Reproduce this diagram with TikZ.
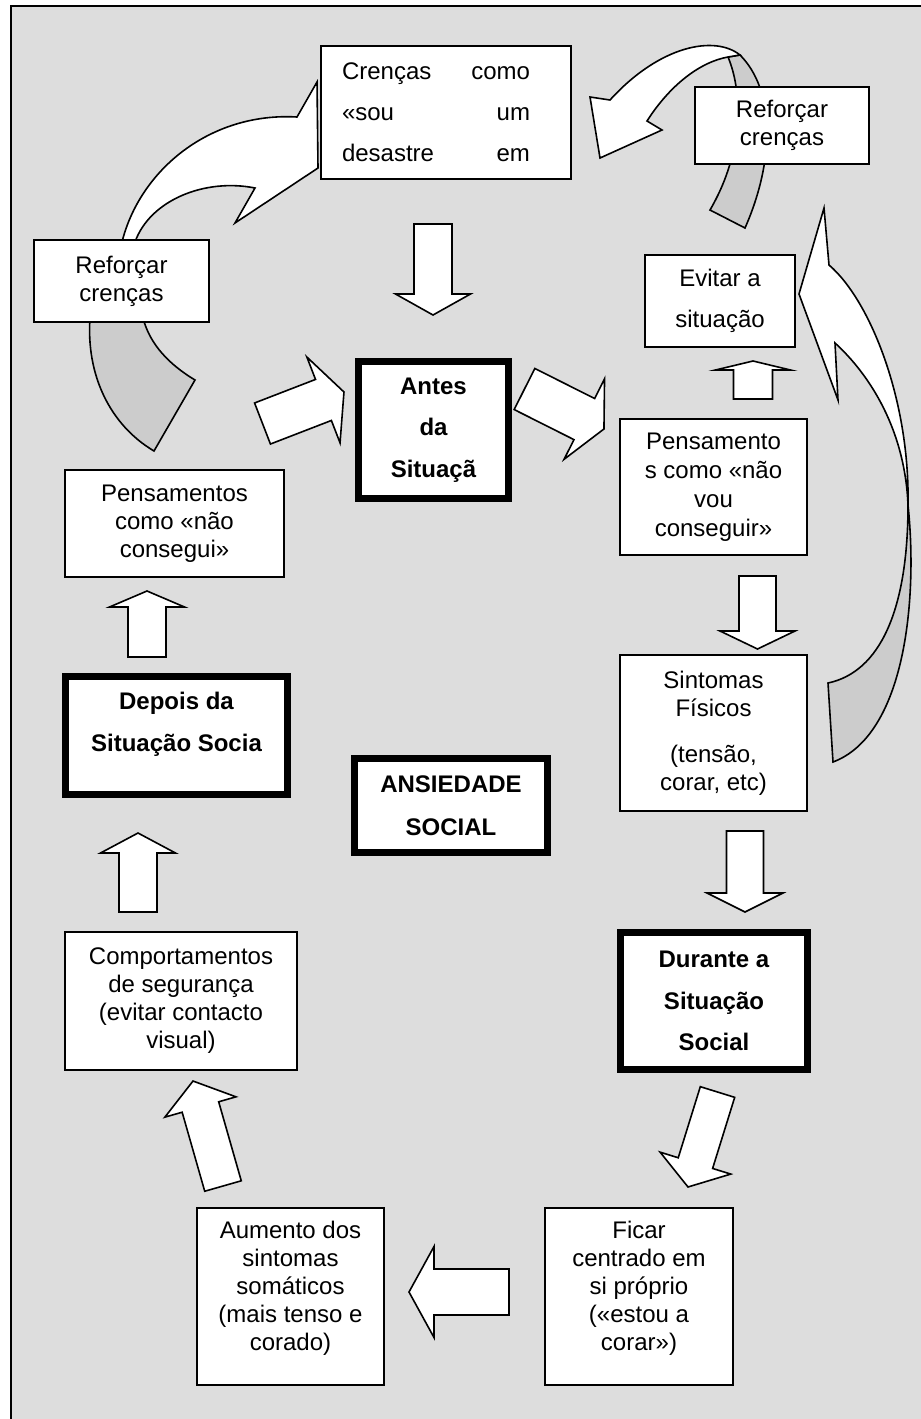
\documentclass[tikz,border=0pt]{standalone}
\usepackage{fontspec}
\setmainfont{Liberation Sans}
\usepackage{tikz}
\usetikzlibrary{calc}
\definecolor{bggray}{gray}{0.867}
\definecolor{ribbongray}{gray}{0.8}
\tikzset{box/.style={draw,fill=white,line width=0.75pt,align=center,inner sep=0pt,
    font=\fontsize{12}{14}\selectfont},
  widebox/.style={box,font=\fontsize{12}{20.75}\selectfont},
  keybox/.style={box,line width=3.5pt,font=\bfseries\fontsize{12}{20.75}\selectfont},
  blockarr/.style={draw,fill=white,line width=0.8pt},
  ribbon/.style={draw,fill=white,line width=0.8pt},
  ribbonback/.style={draw,fill=ribbongray,line width=0.8pt}}
\newcommand\lowpad[1]{\rule[-#1]{0pt}{#1}}
\newcommand\spreadline[2]{\makebox[104pt][l]{\makebox[94pt]{#1\hfill #2}}}
% block arrow from #1 to #2: shaft, head (half widths), head length
\newcommand\blockarr[5]{%
  \pgfmathanglebetweenpoints{\pgfpointanchor{#1}{center}}{\pgfpointanchor{#2}{center}}%
  \let\barang\pgfmathresult
  \pgfpointdiff{\pgfpointanchor{#1}{center}}{\pgfpointanchor{#2}{center}}%
  \pgfgetlastxy{\bardx}{\bardy}%
  \pgfmathsetmacro\barlen{veclen(\bardx,\bardy)/0.5}%
  \begin{scope}[shift={(#1)},rotate=\barang,x=0.5pt,y=0.5pt]
    \draw[blockarr] (0,-#3) -- ({\barlen-#5},-#3) -- ({\barlen-#5},-#4) -- (\barlen,0)
      -- ({\barlen-#5},#4) -- ({\barlen-#5},#3) -- (0,#3) -- cycle;
  \end{scope}}
\begin{document}
\begin{tikzpicture}[x=0.5pt,y=-0.5pt,line cap=round]

  \useasboundingbox (0,0) rectangle (921,1419);
  \fill[bggray] (11,6) rectangle (921,1419);
  \draw[line width=1pt] (11,1419) -- (11,6) -- (921,6);

  % curved arrows
  \draw[ribbonback] (90,318) .. controls (86,375) and (110,425) .. (154,451)
    -- (195,380) .. controls (170,365) and (150,345) .. (143,318) -- cycle;
  \draw[ribbon] (122,242) .. controls (140,170) and (210,112) .. (297,117)
    -- (317,82) -- (318,168) -- (235,223) -- (255,188)
    .. controls (205,178) and (150,200) .. (135,242) -- cycle;

  \draw[ribbonback] (728,57) .. controls (742,90) and (745,150) .. (710,210)
    -- (745,228) .. controls (775,160) and (775,90) .. (740,55) -- cycle;
  \draw[ribbon] (610,100) -- (590,97) -- (600,158) -- (662,130) -- (647,121)
    .. controls (670,85) and (700,62) .. (728,57) -- (740,55)
    .. controls (715,35) and (660,45) .. (610,100) -- cycle;

  \draw[ribbonback] (908,505) .. controls (918,600) and (905,735) .. (833,762)
    -- (828,683) .. controls (880,672) and (908,610) .. (908,505) -- cycle;
  \draw[ribbon] (829,265) -- (824,208) -- (799,294) -- (838,400) -- (835,343)
    .. controls (870,375) and (905,430) .. (908,505)
    .. controls (910,400) and (870,300) .. (829,265) -- cycle;

  % boxes
  \node[box,minimum width=125pt,minimum height=66.5pt,font=\fontsize{12}{20.5}\selectfont]
    (cren) at (446,112.5) {\spreadline{Crenças}{como}\\\spreadline{«sou}{um}\\\spreadline{desastre}{em}};
  \node[box,minimum width=87pt,minimum height=38.5pt] (reforcoA) at (782,125.5) {Reforçar\\crenças};
  \node[box,minimum width=87.5pt,minimum height=41pt] (reforcoB) at (121.5,281) {Reforçar\\crenças};
  \node[keybox,minimum width=75pt,minimum height=68.5pt] (antes) at (433.5,430) {Antes\\da\\Situaçã};
  \node[widebox,minimum width=75pt,minimum height=46pt] (evitar) at (720,301) {Evitar a\\situação};
  \node[box,minimum width=93.5pt,minimum height=68pt,font=\fontsize{12}{14.5}\selectfont]
    (pensaA) at (713.5,487) {Pensamento\\s como «não\\vou\\conseguir»};
  \node[box,minimum width=93.5pt,minimum height=78pt] (sintomas) at (713.5,733)
    {Sintomas\\Físicos\\[9pt](tensão,\\corar, etc)};
  \node[keybox,minimum width=93.5pt,minimum height=68.5pt] (durante) at (714,1001)
    {Durante a\\Situação\\Social};
  \node[keybox,minimum width=96.5pt,minimum height=47pt,font=\bfseries\fontsize{12}{21.5}\selectfont]
    (ansiedade) at (451,805.5) {ANSIEDADE\\SOCIAL};
  \node[keybox,minimum width=111pt,minimum height=59pt] (depois) at (176.5,735.5)
    {Depois da\\Situação Socia\lowpad{13.5pt}};
  \node[box,minimum width=109.5pt,minimum height=53.5pt] (pensaB) at (174.5,523.5)
    {Pensamentos\\como «não\\consegui»};
  \node[box,minimum width=116pt,minimum height=69pt] (comport) at (181,1001)
    {Comportamentos\\de segurança\\(evitar contacto\\visual)};
  \node[box,minimum width=93.5pt,minimum height=88.5pt] (aumento) at (290.5,1296.5)
    {Aumento dos\\sintomas\\somáticos\\(mais tenso e\\corado)\lowpad{11pt}};
  \node[box,minimum width=94pt,minimum height=88.5pt] (ficar) at (639,1296.5)
    {Ficar\\centrado em\\si próprio\\(«estou a\\corar»)\lowpad{11pt}};

  % block arrows
  \coordinate (crenA) at (433,224);   \coordinate (crenB) at (433,315);
  \coordinate (inA) at (262.5,423.5); \coordinate (inB) at (344,392);
  \coordinate (outA) at (524.5,389);  \coordinate (outB) at (604,429);
  \coordinate (evitA) at (753,399);   \coordinate (evitB) at (753,361);
  \coordinate (pensA) at (757.5,576); \coordinate (pensB) at (757.5,649);
  \coordinate (sintA) at (745,831);   \coordinate (sintB) at (745,912);
  \coordinate (durA) at (717.5,1092); \coordinate (durB) at (688,1187);
  \coordinate (ficA) at (509,1292);   \coordinate (ficB) at (409,1292);
  \coordinate (aumA) at (223,1186);   \coordinate (aumB) at (193,1081);
  \coordinate (compA) at (138,912);   \coordinate (compB) at (138,833);
  \coordinate (depA) at (147,657);    \coordinate (depB) at (147,591);

  \blockarr{crenA}{crenB}{19}{37.5}{21}
  \blockarr{inA}{inB}{22}{46}{22}
  \blockarr{outA}{outB}{23}{45}{22}
  \blockarr{evitA}{evitB}{19.5}{37.5}{9}
  \blockarr{pensA}{pensB}{18.5}{37.5}{18}
  \blockarr{sintA}{sintB}{18.5}{38}{19}
  \blockarr{durA}{durB}{18}{37}{25}
  \blockarr{ficA}{ficB}{23}{45.5}{25}
  \blockarr{aumA}{aumB}{19}{37}{27}
  \blockarr{compA}{compB}{19}{37.5}{20}
  \blockarr{depA}{depB}{19}{37.5}{16}

\end{tikzpicture}
\end{document}
